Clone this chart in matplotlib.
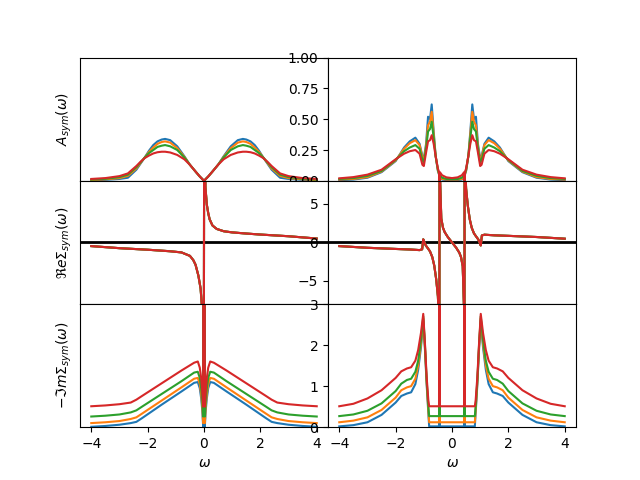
import matplotlib
matplotlib.use("Agg")
import matplotlib.pyplot as plt

# ---- left column (model 1) ----
w_a_left = [-4, -3.5, -3, -2.7, -2.4, -2.25, -2.1, -1.95, -1.8, -1.65, -1.5, -1.38, -1.2, -0.95, -0.7, -0.5,
            -0.3, -0.15, 0,
            0.15, 0.3, 0.5, 0.7, 0.95, 1.2, 1.38, 1.5, 1.65, 1.8, 1.95, 2.1, 2.25, 2.4, 2.7, 3, 3.5, 4]
a_left = {
    "blue": [0.003, 0.008, 0.015, 0.025, 0.09, 0.14, 0.19, 0.245, 0.29, 0.32, 0.335, 0.34, 0.33, 0.28, 0.2, 0.13,
             0.075, 0.035, 0.0,
             0.035, 0.075, 0.13, 0.2, 0.28, 0.33, 0.34, 0.335, 0.32, 0.29, 0.245, 0.19, 0.14, 0.09, 0.025, 0.015,
             0.008, 0.003],
    "orange": [0.006, 0.012, 0.022, 0.04, 0.1, 0.145, 0.19, 0.235, 0.27, 0.3, 0.315, 0.32, 0.31, 0.265, 0.195,
               0.13, 0.075, 0.035, 0.0,
               0.035, 0.075, 0.13, 0.195, 0.265, 0.31, 0.32, 0.315, 0.3, 0.27, 0.235, 0.19, 0.145, 0.1, 0.04,
               0.022, 0.012, 0.006],
    "green": [0.01, 0.016, 0.03, 0.05, 0.11, 0.15, 0.19, 0.225, 0.25, 0.275, 0.285, 0.29, 0.28, 0.25, 0.19, 0.13,
              0.075, 0.035, 0.0,
              0.035, 0.075, 0.13, 0.19, 0.25, 0.28, 0.29, 0.285, 0.275, 0.25, 0.225, 0.19, 0.15, 0.11, 0.05, 0.03,
              0.016, 0.01],
    "red": [0.015, 0.022, 0.038, 0.06, 0.12, 0.155, 0.185, 0.205, 0.222, 0.232, 0.236, 0.236, 0.23, 0.21, 0.175,
            0.13, 0.075, 0.035, 0.0,
            0.035, 0.075, 0.13, 0.175, 0.21, 0.23, 0.236, 0.236, 0.232, 0.222, 0.205, 0.185, 0.155, 0.12, 0.06,
            0.038, 0.022, 0.015],
}

w_re_left = [-4, -3, -2, -1.2, -0.8, -0.5, -0.38, -0.3, -0.2, -0.12, -0.07, -0.01,
             0.01, 0.05, 0.1, 0.15, 0.2, 0.3, 0.45, 0.7, 1.0, 1.5, 2.0, 3.0, 4.0]
re_left = [-0.48, -0.75, -0.95, -1.15, -1.3, -1.75, -2.3, -2.9, -4.3, -6.0, -8.5, -30,
           30, 7.2, 4.9, 3.8, 3.0, 2.2, 1.75, 1.45, 1.3, 1.15, 1.02, 0.8, 0.5]

w_im_left = [-4, -3.5, -3, -2.6, -2.4, -2.2, -1.5, -0.8, -0.35, -0.22, -0.15, -0.1, -0.06, -0.03, 0,
             0.03, 0.06, 0.1, 0.15, 0.22, 0.35, 0.8, 1.5, 2.2, 2.4, 2.6, 3, 3.5, 4]
im_left = {
    "blue": [0.01, 0.03, 0.06, 0.1, 0.13, 0.22, 0.55, 0.87, 1.08, 1.1, 0.95, 0.7, 0.4, 0.02, 30,
             0.02, 0.4, 0.7, 0.95, 1.1, 1.08, 0.87, 0.55, 0.22, 0.13, 0.1, 0.06, 0.03, 0.01],
    "orange": [0.1, 0.12, 0.15, 0.2, 0.24, 0.33, 0.65, 0.97, 1.18, 1.2, 1.05, 0.8, 0.5, 0.1, 30,
               0.1, 0.5, 0.8, 1.05, 1.2, 1.18, 0.97, 0.65, 0.33, 0.24, 0.2, 0.15, 0.12, 0.1],
    "green": [0.26, 0.28, 0.31, 0.36, 0.41, 0.5, 0.81, 1.12, 1.33, 1.35, 1.2, 0.95, 0.65, 0.26, 30,
              0.26, 0.65, 0.95, 1.2, 1.35, 1.33, 1.12, 0.81, 0.5, 0.41, 0.36, 0.31, 0.28, 0.26],
    "red": [0.51, 0.53, 0.56, 0.6, 0.67, 0.76, 1.07, 1.38, 1.57, 1.6, 1.45, 1.2, 0.85, 0.5, 30,
            0.5, 0.85, 1.2, 1.45, 1.6, 1.57, 1.38, 1.07, 0.76, 0.67, 0.6, 0.56, 0.53, 0.51],
}

# ---- right column (model 2) ----
w_a_right = [-4, -3.5, -3, -2.5, -2.0, -1.7, -1.5, -1.3, -1.15, -1.05, -1.0, -0.92, -0.85, -0.78, -0.72,
             -0.65, -0.58, -0.5, -0.46, -0.445, -0.43, -0.35, -0.2, 0, 0.2, 0.35, 0.43, 0.445, 0.46, 0.5,
             0.58, 0.65, 0.72, 0.78, 0.85, 0.92, 1.0, 1.05, 1.15, 1.3, 1.5, 1.7, 2.0, 2.5, 3, 3.5, 4]
a_right = {
    "blue": [0.005, 0.01, 0.025, 0.07, 0.16, 0.27, 0.32, 0.35, 0.3, 0.2, 0.18, 0.3, 0.52, 0.5, 0.62,
             0.4, 0.2, 0.08, 0.05, 0.0, 0.03, 0.01, 0.006, 0.005, 0.006, 0.01, 0.03, 0.0, 0.05, 0.08,
             0.2, 0.4, 0.62, 0.5, 0.52, 0.3, 0.18, 0.2, 0.3, 0.35, 0.32, 0.27, 0.16, 0.07, 0.025, 0.01, 0.005],
    "orange": [0.01, 0.015, 0.03, 0.075, 0.165, 0.26, 0.305, 0.33, 0.29, 0.19, 0.17, 0.28, 0.45, 0.48, 0.56,
               0.38, 0.2, 0.085, 0.055, 0.0, 0.04, 0.015, 0.01, 0.01, 0.01, 0.015, 0.04, 0.0, 0.055, 0.085,
               0.2, 0.38, 0.56, 0.48, 0.45, 0.28, 0.17, 0.19, 0.29, 0.33, 0.305, 0.26, 0.165, 0.075, 0.03, 0.015, 0.01],
    "green": [0.015, 0.022, 0.04, 0.08, 0.17, 0.24, 0.27, 0.29, 0.26, 0.17, 0.15, 0.26, 0.4, 0.42, 0.48,
              0.35, 0.2, 0.09, 0.06, 0.0, 0.05, 0.025, 0.015, 0.014, 0.015, 0.025, 0.05, 0.0, 0.06, 0.09,
              0.2, 0.35, 0.48, 0.42, 0.4, 0.26, 0.15, 0.17, 0.26, 0.29, 0.27, 0.24, 0.17, 0.08, 0.04, 0.022, 0.015],
    "red": [0.02, 0.03, 0.05, 0.09, 0.175, 0.22, 0.24, 0.25, 0.22, 0.13, 0.12, 0.23, 0.32, 0.33, 0.37,
            0.3, 0.2, 0.1, 0.07, 0.0, 0.07, 0.045, 0.028, 0.022, 0.028, 0.045, 0.07, 0.0, 0.07, 0.1,
            0.2, 0.3, 0.37, 0.33, 0.32, 0.23, 0.12, 0.13, 0.22, 0.25, 0.24, 0.22, 0.175, 0.09, 0.05, 0.03, 0.02],
}

w_re_right = [-4, -3, -2, -1.5, -1.15, -1.06, -1.02, -0.98, -0.93, -0.85, -0.78, -0.7, -0.63, -0.56, -0.5,
              -0.47, -0.45, -0.44, -0.42, -0.38, -0.32, -0.26, -0.15, 0, 0.15, 0.26, 0.32, 0.38, 0.42, 0.44,
              0.45, 0.47, 0.5, 0.56, 0.63, 0.7, 0.78, 0.85, 0.93, 0.98, 1.02, 1.06, 1.15, 1.5, 2, 3, 4]
re_right = [-0.48, -0.7, -0.85, -0.92, -1.0, -0.9, 0.4, 0.0, -0.4, -0.8, -1.17, -1.9, -3.0, -4.8, -7.0,
            -10, -30, 30, 7.8, 3.1, 1.9, 1.34, 0.7, 0.0, -0.7, -1.34, -1.9, -3.1, -7.8, -30,
            30, 10, 7.0, 4.8, 3.0, 1.9, 1.17, 0.8, 0.4, 0.0, -0.4, 0.9, 1.0, 0.92, 0.85, 0.7, 0.48]

w_im_right = [-4, -3.5, -3, -2.5, -2.0, -1.8, -1.6, -1.45, -1.3, -1.2, -1.1, -1.02, -0.96, -0.9, -0.84,
              -0.81, -0.46, -0.445, -0.43, 0.43, 0.445, 0.46, 0.81, 0.84, 0.9, 0.96, 1.02, 1.1, 1.2, 1.3,
              1.45, 1.6, 1.8, 2.0, 2.5, 3, 3.5, 4]
im_right = {
    "blue": [0.02, 0.05, 0.12, 0.3, 0.6, 0.76, 0.82, 0.85, 1.05, 1.4, 1.95, 2.6, 1.9, 1.05, 0.35,
             0.02, 0.02, 30, 0.02, 0.02, 30, 0.02, 0.02, 0.35, 1.05, 1.9, 2.6, 1.95, 1.4, 1.05,
             0.85, 0.82, 0.76, 0.6, 0.3, 0.12, 0.05, 0.02],
    "orange": [0.12, 0.16, 0.24, 0.42, 0.72, 0.9, 0.97, 1.0, 1.18, 1.5, 2.03, 2.65, 1.95, 1.1, 0.42,
               0.12, 0.12, 30, 0.12, 0.12, 30, 0.12, 0.12, 0.42, 1.1, 1.95, 2.65, 2.03, 1.5, 1.18,
               1.0, 0.97, 0.9, 0.72, 0.42, 0.24, 0.16, 0.12],
    "green": [0.27, 0.31, 0.4, 0.58, 0.88, 1.06, 1.15, 1.18, 1.35, 1.62, 2.13, 2.7, 2.0, 1.15, 0.5,
              0.27, 0.27, 30, 0.27, 0.27, 30, 0.27, 0.27, 0.5, 1.15, 2.0, 2.7, 2.13, 1.62, 1.35,
              1.18, 1.15, 1.06, 0.88, 0.58, 0.4, 0.31, 0.27],
    "red": [0.51, 0.57, 0.7, 0.9, 1.2, 1.36, 1.43, 1.46, 1.62, 1.88, 2.3, 2.76, 2.04, 1.23, 0.66,
            0.51, 0.51, 30, 0.51, 0.51, 30, 0.51, 0.51, 0.66, 1.23, 2.04, 2.76, 2.3, 1.88, 1.62,
            1.46, 1.43, 1.36, 1.2, 0.9, 0.7, 0.57, 0.51],
}

series = ["blue", "orange", "green", "red"]

fig, axes = plt.subplots(3, 2, figsize=(6.4, 4.8), dpi=100)
plt.subplots_adjust(hspace=0, wspace=0)

for col, (wa, a, wre, re, wim, im) in enumerate([
        (w_a_left, a_left, w_re_left, re_left, w_im_left, im_left),
        (w_a_right, a_right, w_re_right, re_right, w_im_right, im_right)]):
    ax = axes[0, col]
    for s in series:
        ax.plot(wa, a[s])
    ax.set_ylim(0, 1)

    ax = axes[1, col]
    ax.axhline(0, color='k', lw=2)
    for s in series:
        ax.plot(wre, re)
    ax.set_ylim(-8, 8)

    ax = axes[2, col]
    for s in series:
        ax.plot(wim, im[s])
    ax.set_ylim(0, 3)
    ax.set_xlabel(r'$\omega$')

for ax in axes.flat:
    ax.set_xlim(-4.4, 4.4)
    ax.set_xticks([-4, -2, 0, 2, 4])
for ax in axes[:2].flat:
    ax.tick_params(axis='x', bottom=False, labelbottom=False)
for ax in axes[:, 0]:
    ax.tick_params(axis='y', left=False, labelleft=False)

axes[0, 1].set_yticks([0, 0.25, 0.5, 0.75, 1.0])
axes[1, 1].set_yticks([-5, 0, 5])
axes[2, 1].set_yticks([0, 1, 2, 3])

axes[0, 0].set_ylabel(r'$A_{sym}(\omega)$')
axes[1, 0].set_ylabel(r'$\Re e \Sigma_{sym}(\omega)$')
axes[2, 0].set_ylabel(r'$-\Im m \Sigma_{sym}(\omega)$')

plt.savefig('out.png')
